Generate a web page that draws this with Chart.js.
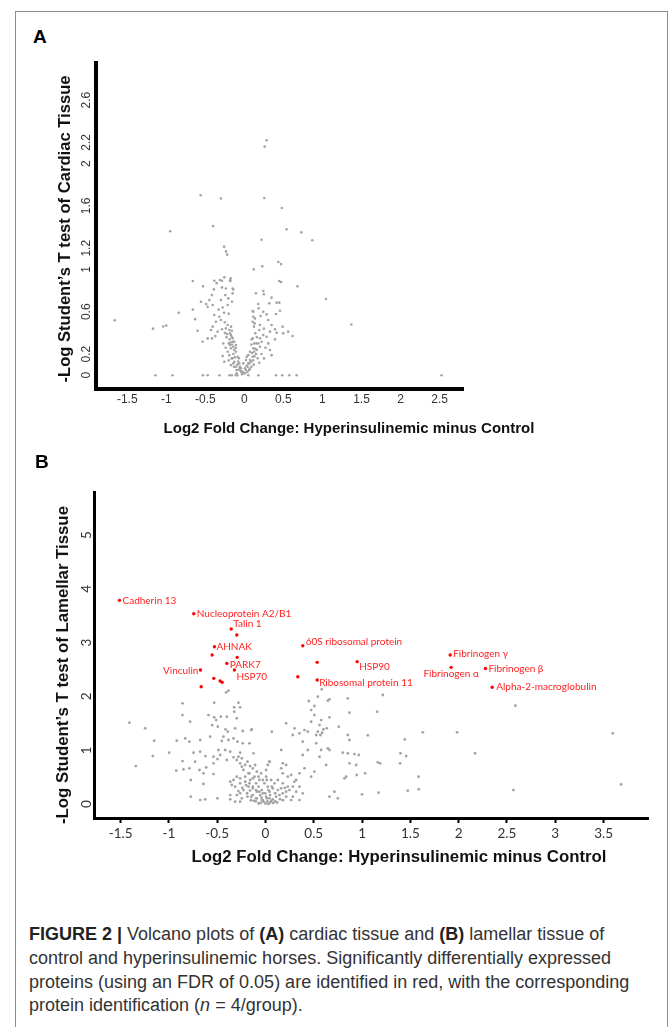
<!DOCTYPE html>
<html>
<head>
<meta charset="utf-8">
<script src="https://cdn.jsdelivr.net/npm/chart.js@4.4.1/dist/chart.umd.min.js"></script>
<style>
  html, body { margin: 0; padding: 0; background: #fff; overflow: hidden; width: 669px; height: 1027px; }
  #frame { position: absolute; left: 15px; top: 11px; width: 651px; height: 1100px; border: 1px solid #8c8c8c; border-bottom: none; }
  canvas { position: absolute; left: 0; }
  .letter { position: absolute; font: bold 19px "Liberation Sans", Arial, sans-serif; color: #000; }
  .title { position: absolute; font-family: "Liberation Sans", Arial, sans-serif; font-weight: bold; color: #111; white-space: nowrap; transform: translate(-50%, -50%); }
  .ytitle { transform: translate(-50%, -50%) rotate(-90deg); }
  #caption { position: absolute; left: 29px; top: 923px; font-family: "Liberation Sans Narrow", "Arial Narrow", sans-serif; font-size: 18px; line-height: 23.8px; color: #333; white-space: nowrap; }
  #caption b { color: #222; }
</style>
</head>
<body>
<div id="frame"></div>

<div class="letter" style="left:33px; top:26px;">A</div>
<canvas id="cardiac" width="669" height="445" style="top:0;"></canvas>
<div class="title ytitle" style="left:65px; top:229px; font-size:16.6px;">-Log Student’s T test of Cardiac Tissue</div>
<div class="title" style="left:349px; top:427px; font-size:15px;">Log2 Fold Change: Hyperinsulinemic minus Control</div>

<div class="letter" style="left:35px; top:451px;">B</div>
<canvas id="lamellar" width="669" height="420" style="top:450px;"></canvas>
<div class="title ytitle" style="left:63px; top:665px; font-size:16.8px;">-Log Student’s T test of Lamellar Tissue</div>
<div class="title" style="left:399px; top:857px; font-size:16.8px;">Log2 Fold Change: Hyperinsulinemic minus Control</div>

<div id="caption">
<b>FIGURE 2 |</b> Volcano plots of <b>(A)</b> cardiac tissue and <b>(B)</b> lamellar tissue of<br>
control and hyperinsulinemic horses. Significantly differentially expressed<br>
proteins (using an FDR of 0.05) are identified in red, with the corresponding<br>
protein identification (<i>n</i> = 4/group).
</div>

<script>
// ---- panel A: cardiac tissue (log2 fold change, -log p) ----
const cardiacXTicks = [-1.5, -1, -0.5, 0, 0.5, 1, 1.5, 2, 2.5];
const cardiacYTicks = [0, 0.2, 0.6, 1, 1.2, 1.6, 2, 2.2, 2.6];

const cardiacZeroRow = [-1.14, -0.92, -0.53, -0.47, -0.32, -0.19, -0.16, -0.11, -0.09, 0.05, 0.18, 0.405, 0.485, 0.575, 0.67, 2.525];

const cardiacOutliers = [
  [0.285, 2.22], [0.26, 2.16], [-0.56, 1.70], [-0.30, 1.67], [0.255, 1.675], [0.48, 1.58],
  [-0.40, 1.41], [-0.95, 1.36], [0.54, 1.38], [0.73, 1.35], [0.87, 1.275], [0.22, 1.28],
  [-0.26, 1.215], [-0.235, 1.17], [-0.22, 1.14], [0.12, 1.00], [0.23, 1.03], [0.435, 1.07],
  [0.47, 1.05], [0.445, 0.89], [0.47, 0.88], [0.68, 0.84], [-0.66, 0.89], [-0.53, 0.84],
  [-1.66, 0.52], [-1.17, 0.44], [-1.04, 0.46], [-1.0, 0.47], [-0.84, 0.59], [-0.66, 0.62],
  [-0.63, 0.53], [1.045, 0.72], [1.37, 0.48], [-0.60, 0.42]
];

const cardiacLeft = [
  [-0.385, 0.893], [-0.355, 0.87], [-0.312, 0.90], [-0.287, 0.893], [-0.257, 0.925], [-0.175, 0.915], [-0.178, 0.89],
  [-0.39, 0.811], [-0.287, 0.83], [-0.236, 0.82], [-0.142, 0.811], [-0.415, 0.757], [-0.244, 0.757], [-0.15, 0.773],
  [-0.30, 0.71], [-0.206, 0.726], [-0.158, 0.695], [-0.214, 0.663], [-0.278, 0.64],
  [-0.556, 0.695], [-0.49, 0.673], [-0.449, 0.71], [-0.47, 0.647], [-0.406, 0.663],
  [-0.385, 0.569], [-0.321, 0.553], [-0.364, 0.506], [-0.30, 0.522], [-0.406, 0.459], [-0.428, 0.427],
  [-0.342, 0.412], [-0.287, 0.435], [-0.236, 0.443], [-0.535, 0.317], [-0.47, 0.348], [-0.415, 0.348], [-0.372, 0.37],
  [-0.214, 0.474], [-0.193, 0.427], [-0.172, 0.38], [-0.15, 0.349], [-0.129, 0.317], [-0.108, 0.285], [-0.20, 0.301],
  [-0.172, 0.254], [-0.214, 0.222], [-0.278, 0.181], [-0.257, 0.128], [-0.193, 0.19], [-0.15, 0.16], [-0.108, 0.222],
  [-0.086, 0.175], [-0.129, 0.128], [-0.172, 0.096], [-0.108, 0.08], [-0.065, 0.112], [-0.044, 0.065], [-0.022, 0.033],
  [-0.001, 0.018], [0.02, 0.049], [0.042, 0.08], [0.063, 0.112], [0.085, 0.128], [0.106, 0.175], [0.127, 0.222],
  [0.127, 0.301], [0.106, 0.349], [0.14, 0.396], [0.114, 0.553], [0.114, 0.60], [0.131, 0.49],
  [-0.25, 0.40], [-0.23, 0.36], [-0.27, 0.30], [-0.19, 0.34], [-0.16, 0.29], [-0.24, 0.26], [-0.13, 0.24],
  [-0.20, 0.14], [-0.12, 0.17], [-0.08, 0.13], [-0.06, 0.07], [-0.10, 0.05], [-0.04, 0.03],
  [-0.22, 0.39], [-0.18, 0.31], [-0.14, 0.2], [-0.09, 0.1], [-0.05, 0.045], [-0.03, 0.01], [-0.26, 0.59],
  [-0.33, 0.62], [-0.2, 0.58], [-0.25, 0.5], [-0.16, 0.42], [-0.11, 0.26], [-0.07, 0.16]
];

const cardiacRight = [
  [0.149, 0.774], [0.242, 0.796], [0.25, 0.765], [0.348, 0.733], [0.413, 0.686], [0.447, 0.686], [0.319, 0.679],
  [0.178, 0.673], [0.106, 0.607], [0.183, 0.632], [0.242, 0.60], [0.285, 0.575], [0.208, 0.56], [0.136, 0.537],
  [0.456, 0.61], [0.404, 0.578], [0.106, 0.506], [0.123, 0.459], [0.20, 0.474], [0.306, 0.522], [0.349, 0.474],
  [0.49, 0.459], [0.392, 0.434], [0.562, 0.412], [0.618, 0.371], [0.498, 0.396], [0.413, 0.402], [0.328, 0.412],
  [0.285, 0.364], [0.242, 0.38], [0.191, 0.427], [0.094, 0.339], [0.157, 0.301], [0.115, 0.254], [0.072, 0.222],
  [0.20, 0.269], [0.221, 0.317], [0.392, 0.339], [0.328, 0.238], [0.349, 0.19], [0.251, 0.159], [0.191, 0.118],
  [0.306, 0.301], [0.05, 0.19], [0.02, 0.143], [-0.014, 0.112], [-0.056, 0.08], [-0.077, 0.049], [-0.035, 0.033],
  [0.008, 0.065], [0.05, 0.112], [0.072, 0.143], [0.029, 0.175], [-0.099, 0.018], [-0.163, 0.159], [-0.141, 0.112],
  [-0.133, 0.08], [-0.184, 0.396], [-0.163, 0.364], [-0.15, 0.317], [-0.184, 0.285], [-0.141, 0.269], [-0.171, 0.459],
  [-0.15, 0.82], [-0.184, 0.897], [0.09, 0.08], [0.12, 0.10], [0.15, 0.20], [0.17, 0.16], [0.06, 0.05],
  [0.10, 0.21], [0.04, 0.03], [0.14, 0.25], [0.18, 0.30],
  [0.07, 0.06], [0.11, 0.14], [0.13, 0.18], [0.16, 0.24], [0.09, 0.29], [0.2, 0.35], [0.25, 0.44], [0.16, 0.36],
  [0.03, 0.09], [0.01, 0.02], [0.22, 0.2], [0.27, 0.26]
];

// ---- panel B: lamellar tissue ----
const lamellarXTicks = [-1.5, -1, -0.5, 0, 0.5, 1, 1.5, 2, 2.5, 3, 3.5];
const lamellarYTicks = [0, 1, 2, 3, 4, 5];

const lamellarLeft = [
  [-0.407, 2.076], [-0.383, 2.106], [-0.859, 1.871], [-0.531, 1.883], [-0.28, 1.883], [-0.324, 1.797], [-0.262, 1.797],
  [-0.324, 1.716], [-0.859, 1.654], [-1.408, 1.512], [-1.245, 1.407], [-0.78, 1.53], [-0.59, 1.654], [-0.531, 1.611],
  [-0.51, 1.561], [-0.462, 1.623], [-0.40, 1.623], [-0.297, 1.592], [-0.552, 1.468], [-0.493, 1.437], [-0.414, 1.388],
  [-0.39, 1.344], [-0.314, 1.407], [-0.235, 1.357], [-0.142, 1.388], [-1.152, 1.177], [-1.166, 0.892], [-0.997, 0.954],
  [-0.918, 1.177], [-0.831, 1.22], [-0.787, 1.159], [-0.676, 1.19], [-0.573, 1.252], [-0.435, 1.252], [-0.452, 1.171],
  [-0.383, 1.19], [-0.331, 1.22], [-0.29, 1.159], [-0.235, 1.128], [-0.124, 0.942], [-1.342, 0.706],
  [-0.859, 0.799], [-0.924, 0.619], [-0.849, 0.644], [-0.787, 0.663], [-0.728, 0.787], [-0.745, 0.954], [-0.676, 0.973],
  [-0.621, 0.892], [-0.538, 0.88], [-0.487, 1.004], [-0.469, 0.911], [-0.417, 1.004], [-0.365, 0.973], [-0.331, 0.868],
  [-0.262, 0.954], [-0.245, 0.849], [-0.297, 0.818], [-0.40, 0.818], [-0.497, 0.836], [-0.538, 0.756], [-0.614, 0.681],
  [-0.683, 0.632], [-0.642, 0.57], [-0.773, 0.446], [-0.642, 0.372], [-0.538, 0.557], [-0.773, 0.136], [-0.676, 0.074],
  [-0.624, 0.087], [-0.497, 0.105], [-0.365, 0.167], [-0.365, 0.087], [-0.314, 0.043], [-0.262, 0.043]
];

const lamellarCore = [
  [-0.28, 0.88], [-0.262, 0.756], [-0.245, 0.694], [-0.228, 0.632], [-0.21, 0.725], [-0.186, 0.787], [-0.159, 0.706],
  [-0.131, 0.663], [-0.107, 0.725], [-0.09, 0.601], [-0.176, 0.57], [-0.21, 0.508], [-0.262, 0.477], [-0.297, 0.508],
  [-0.331, 0.446], [-0.365, 0.415], [-0.349, 0.353], [-0.314, 0.322], [-0.262, 0.384], [-0.21, 0.415], [-0.159, 0.446],
  [-0.131, 0.477], [-0.097, 0.384], [-0.072, 0.322], [-0.038, 0.26], [-0.003, 0.198], [-0.055, 0.167], [-0.09, 0.229],
  [-0.131, 0.291], [-0.176, 0.322], [-0.228, 0.26], [-0.262, 0.198], [-0.297, 0.167], [-0.245, 0.105], [-0.186, 0.136],
  [-0.131, 0.167], [-0.09, 0.105], [-0.038, 0.074], [0.014, 0.105], [0.048, 0.167], [0.031, 0.26], [0.066, 0.322],
  [0.014, 0.446], [0.007, 0.632], [0.041, 0.787], [-0.027, 0.446], [-0.072, 0.508],
  [-0.166, 0.384], [-0.131, 0.322], [-0.097, 0.26], [-0.063, 0.229], [-0.028, 0.198], [0.007, 0.136], [0.041, 0.105],
  [0.076, 0.087], [0.11, 0.136], [0.145, 0.167], [0.179, 0.198], [0.214, 0.229], [0.248, 0.26], [0.128, 0.26],
  [0.076, 0.291], [0.024, 0.322], [-0.011, 0.384], [-0.063, 0.446], [-0.114, 0.508], [-0.166, 0.57], [0.179, 0.384],
  [0.231, 0.322], [0.059, 0.446], [0.128, 0.446], [0.283, 0.322], [0.318, 0.229], [-0.028, 0.074], [-0.097, 0.105],
  [-0.148, 0.136], [0.041, 0.229], [0.093, 0.384], [0.162, 0.291], [0.214, 0.136], [0.266, 0.074], [0.007, 0.508],
  [-0.045, 0.57], [-0.10, 0.05], [-0.05, 0.02], [0.0, 0.01], [0.05, 0.03], [0.10, 0.05], [-0.15, 0.07], [0.15, 0.09],
  [-0.02, 0.04], [0.03, 0.0], [0.08, 0.02], [-0.07, 0.01], [0.12, 0.03],
  [-0.2, 0.35], [-0.24, 0.3], [-0.28, 0.24], [-0.19, 0.2], [-0.12, 0.06], [0.06, 0.06], [0.18, 0.07], [0.2, 0.3],
  [0.1, 0.2], [-0.04, 0.12], [0.02, 0.05], [-0.16, 0.25]
];

const lamellarRight = [
  [0.583, 2.132], [0.542, 1.995], [0.663, 1.946], [0.645, 1.921], [0.449, 1.915], [0.507, 1.822], [0.852, 1.965],
  [0.87, 1.698], [0.759, 1.437], [0.663, 1.611], [0.576, 1.561], [0.559, 1.468], [0.473, 1.53], [0.507, 1.654],
  [0.473, 1.747], [0.635, 1.407], [0.60, 1.388], [0.587, 1.325], [0.569, 1.283], [0.542, 1.344], [0.525, 1.283],
  [0.438, 1.344], [0.404, 1.375], [0.30, 1.407], [0.283, 1.283], [0.352, 1.314], [0.386, 1.158], [0.525, 1.128],
  [0.576, 1.004], [0.645, 1.035], [0.663, 1.004], [0.559, 0.879], [0.628, 0.725], [0.507, 0.601], [0.473, 0.508],
  [0.404, 0.663], [0.352, 0.57], [0.352, 0.322], [0.386, 0.198], [0.352, 0.074], [0.283, 0.136], [0.30, 0.415],
  [0.214, 0.725], [0.179, 0.756], [0.163, 0.663], [0.179, 0.57], [0.231, 0.508], [0.266, 0.539], [0.318, 0.446],
  [0.041, 0.786], [0.024, 0.725], [0.163, 1.004], [0.214, 1.5], [0.066, 1.344], [-0.148, 1.375], [-0.166, 1.128],
  [0.386, 0.911], [0.438, 1.004], [0.818, 0.477], [0.835, 0.508], [0.939, 0.725], [0.87, 0.756], [0.852, 0.942],
  [0.80, 0.954], [0.87, 1.19], [0.852, 1.283], [0.749, 0.105], [0.663, 0.136], [0.714, 0.229]
];

const lamellarFar = [
  [2.588, 1.827], [3.595, 1.314], [3.682, 0.366], [1.984, 1.332], [1.629, 1.332], [2.17, 0.942], [2.567, 0.26],
  [1.442, 1.2], [1.398, 0.942], [1.456, 0.892], [1.394, 0.756], [1.584, 0.507], [1.587, 0.273], [1.473, 0.248],
  [1.215, 2.026], [1.156, 1.716], [1.06, 1.277], [1.163, 0.775], [1.187, 0.756], [1.17, 0.21], [1.0, 0.18],
  [1.032, 0.57], [0.966, 0.911], [0.921, 0.929], [0.945, 0.539]
];

// significant proteins (FDR 0.05)
const sigFold = [-1.511, -0.742, -0.355, -0.297, -0.528, -0.552, -0.293, -0.40, -0.321, -0.673, -0.535, -0.469,
  -0.448, -0.666, 0.386, 0.535, 0.949, 0.335, 0.535, 1.912, 1.922, 2.277, 2.347];
const sigLogP = [3.786, 3.537, 3.253, 3.141, 2.924, 2.77, 2.726, 2.614, 2.49, 2.49, 2.336, 2.286,
  2.262, 2.18, 2.943, 2.633, 2.646, 2.366, 2.305, 2.77, 2.54, 2.52, 2.17];
const sigNames = ["Cadherin 13", "Nucleoprotein A2/B1", "Talin 1", "", "AHNAK", "", "", "PARK7", "HSP70", "Vinculin",
  "", "", "", "", "60S ribosomal protein", "", "HSP90", "", "Ribosomal protein 11", "Fibrinogen γ", "Fibrinogen α",
  "Fibrinogen β", "Alpha-2-macroglobulin"];

// where each label sits relative to its dot: dx, dy, align
const labelPlace = {
  "Cadherin 13": [3, 0, "left"], "Nucleoprotein A2/B1": [3, 0, "left"], "Talin 1": [2, -5, "left"],
  "AHNAK": [2, 0, "left"], "PARK7": [3, 1, "left"], "HSP70": [2, 7, "left"], "Vinculin": [-2, 1, "right"],
  "60S ribosomal protein": [3, -4, "left"], "HSP90": [2, 5, "left"], "Ribosomal protein 11": [2, 3, "left"],
  "Fibrinogen γ": [3, -1, "left"], "Fibrinogen α": [0, 6, "center"], "Fibrinogen β": [3, 0, "left"],
  "Alpha-2-macroglobulin": [4, 0, "left"]
};

const toPts = arr => arr.map(([x, y]) => ({ x, y }));

const sigLabels = {
  id: "sigLabels",
  afterDatasetsDraw(chart) {
    const meta = chart.getDatasetMeta(1);
    const ctx = chart.ctx;
    ctx.save();
    ctx.font = "10px Lato";
    ctx.fillStyle = "#ff1f1f";
    ctx.textBaseline = "middle";
    sigNames.forEach((name, i) => {
      if (!name) return;
      const el = meta.data[i];
      const [dx, dy, align] = labelPlace[name];
      ctx.textAlign = align;
      ctx.fillText(name, el.x + dx, el.y + dy);
    });
    ctx.restore();
  }
};

function axisOpts(min, max, ticks, o) {
  return {
    type: "linear", min: min, max: max,
    afterBuildTicks: s => { s.ticks = ticks.map(v => ({ value: v })); },
    afterFit: s => { if (s.isHorizontal()) s.height = o.size; else s.width = o.size; },
    grid: o.grid || { display: false, drawTicks: false },
    border: { display: true, color: "#000", width: o.line },
    ticks: {
      font: o.font, color: "#333", padding: o.pad,
      minRotation: o.rot, maxRotation: o.rot, crossAlign: o.rot ? "center" : "near",
      callback: v => String(v)
    }
  };
}

new Chart(document.getElementById("cardiac"), {
  type: "scatter",
  data: {
    datasets: [{
      data: toPts(cardiacOutliers.concat(cardiacLeft, cardiacRight, cardiacZeroRow.map(x => [x, 0]))),
      backgroundColor: "#a3a3a3", borderWidth: 0, pointRadius: 1.3
    }]
  },
  options: {
    responsive: false, animation: false,
    layout: { padding: { left: 0, top: 63, right: 206, bottom: 0 } },
    plugins: { legend: { display: false }, tooltip: { enabled: false } },
    scales: {
      x: axisOpts(-1.9, 2.8, cardiacXTicks, { size: 56, line: 4, pad: 3, rot: 0, font: { family: "Liberation Sans", size: 12 } }),
      y: axisOpts(-0.13, 2.95, cardiacYTicks, { size: 96, line: 4, pad: 1, rot: 90, font: { family: "Liberation Sans", size: 12 } })
    }
  }
});

new Chart(document.getElementById("lamellar"), {
  type: "scatter",
  data: {
    datasets: [{
      data: toPts(lamellarLeft.concat(lamellarCore, lamellarRight, lamellarFar)),
      backgroundColor: "#a3a3a3", borderWidth: 0, pointRadius: 1.4
    }, {
      data: sigFold.map((x, i) => ({ x: x, y: sigLogP[i] })),
      backgroundColor: "#ff0000", borderWidth: 0, pointRadius: 1.7
    }]
  },
  options: {
    responsive: false, animation: false,
    layout: { padding: { left: 0, top: 42, right: 21, bottom: 0 } },
    plugins: { legend: { display: false }, tooltip: { enabled: false } },
    scales: {
      x: axisOpts(-1.775, 3.96, lamellarXTicks, {
        size: 52, line: 3, pad: 3, rot: 0, font: { family: "Lato", size: 13.5 },
        grid: { display: true, drawOnChartArea: false, drawTicks: true, tickLength: 5, tickWidth: 2, tickColor: "#000" }
      }),
      y: axisOpts(-0.26, 5.8, lamellarYTicks, { size: 94, line: 3, pad: 3, rot: 90, font: { family: "Lato", size: 13.5 } })
    }
  },
  plugins: [sigLabels]
});
</script>
</body>
</html>
